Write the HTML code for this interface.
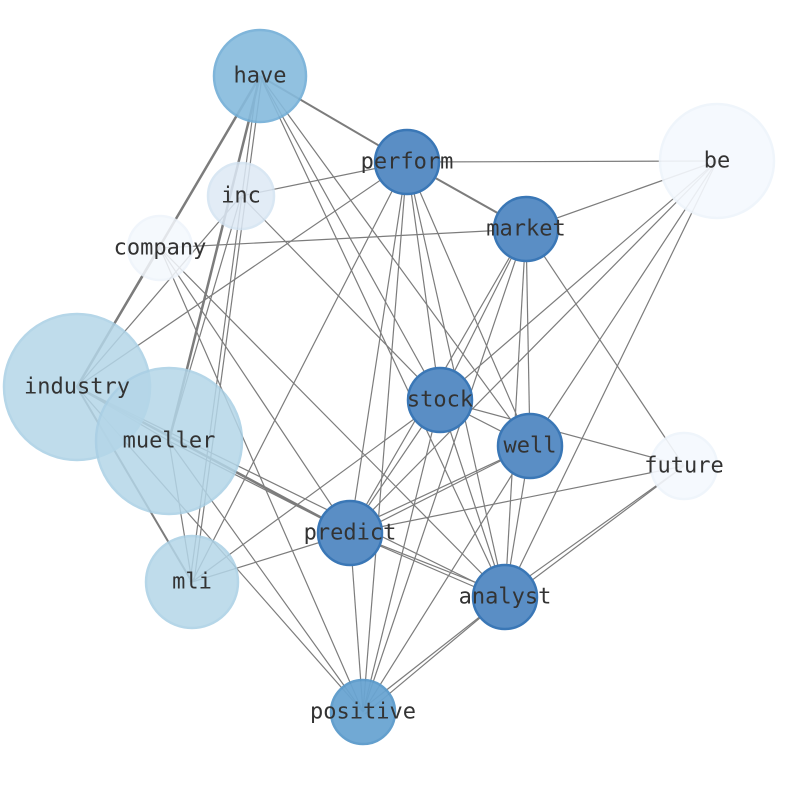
<!DOCTYPE html>
<html><head><style>body{margin:0;background:#fff}svg{display:block}</style></head><body>
<svg width="794" height="790" xmlns="http://www.w3.org/2000/svg">
<g stroke="#666" stroke-width="1.2" opacity="0.85" fill="none">
<line x1="260" y1="76" x2="407" y2="162" stroke-width="2"/>
<line x1="260" y1="76" x2="77" y2="387" stroke-width="2.5"/>
<line x1="260" y1="76" x2="169" y2="441" stroke-width="2.5"/>
<line x1="258" y1="76" x2="190" y2="582"/>
<line x1="262" y1="76" x2="194" y2="582"/>
<line x1="260" y1="76" x2="440" y2="400"/>
<line x1="260" y1="76" x2="530" y2="446"/>
<line x1="260" y1="76" x2="505" y2="597"/>
<line x1="407" y1="162" x2="717" y2="161"/>
<line x1="407" y1="162" x2="241" y2="196"/>
<line x1="407" y1="162" x2="526" y2="229" stroke-width="2"/>
<line x1="407" y1="162" x2="77" y2="387"/>
<line x1="407" y1="162" x2="192" y2="582"/>
<line x1="407" y1="162" x2="350" y2="533"/>
<line x1="407" y1="162" x2="440" y2="400"/>
<line x1="407" y1="162" x2="530" y2="446"/>
<line x1="407" y1="162" x2="505" y2="597"/>
<line x1="407" y1="162" x2="363" y2="712"/>
<line x1="526" y1="229" x2="160" y2="248"/>
<line x1="526" y1="229" x2="717" y2="161"/>
<line x1="526" y1="229" x2="440" y2="400"/>
<line x1="526" y1="229" x2="530" y2="446"/>
<line x1="526" y1="229" x2="350" y2="533"/>
<line x1="526" y1="229" x2="505" y2="597"/>
<line x1="526" y1="229" x2="363" y2="712"/>
<line x1="526" y1="229" x2="684" y2="466"/>
<line x1="717" y1="161" x2="440" y2="400"/>
<line x1="717" y1="161" x2="530" y2="446"/>
<line x1="717" y1="161" x2="505" y2="597"/>
<line x1="717" y1="161" x2="350" y2="533"/>
<line x1="241" y1="196" x2="440" y2="400"/>
<line x1="241" y1="196" x2="77" y2="387"/>
<line x1="241" y1="196" x2="169" y2="441"/>
<line x1="160" y1="248" x2="77" y2="387"/>
<line x1="160" y1="248" x2="350" y2="533"/>
<line x1="160" y1="248" x2="505" y2="597"/>
<line x1="160" y1="248" x2="363" y2="712"/>
<line x1="77" y1="387" x2="169" y2="441"/>
<line x1="77" y1="387" x2="350" y2="533" stroke-width="2.5"/>
<line x1="77" y1="387" x2="505" y2="597"/>
<line x1="77" y1="387" x2="192" y2="582" stroke-width="2"/>
<line x1="77" y1="387" x2="363" y2="712"/>
<line x1="169" y1="441" x2="350" y2="533"/>
<line x1="169" y1="441" x2="192" y2="582"/>
<line x1="169" y1="441" x2="363" y2="712"/>
<line x1="440" y1="400" x2="530" y2="446"/>
<line x1="440" y1="400" x2="684" y2="466"/>
<line x1="440" y1="400" x2="350" y2="533"/>
<line x1="440" y1="400" x2="505" y2="597"/>
<line x1="440" y1="400" x2="363" y2="712"/>
<line x1="440" y1="400" x2="192" y2="582"/>
<line x1="530" y1="446" x2="350" y2="530"/>
<line x1="530" y1="446" x2="350" y2="537"/>
<line x1="530" y1="446" x2="505" y2="597"/>
<line x1="530" y1="446" x2="363" y2="712"/>
<line x1="684" y1="466" x2="350" y2="533"/>
<line x1="684" y1="466" x2="503" y2="595"/>
<line x1="684" y1="466" x2="507" y2="599"/>
<line x1="350" y1="533" x2="505" y2="594"/>
<line x1="350" y1="533" x2="505" y2="600"/>
<line x1="350" y1="533" x2="192" y2="582"/>
<line x1="350" y1="533" x2="363" y2="712"/>
<line x1="505" y1="597" x2="361" y2="710"/>
<line x1="505" y1="597" x2="365" y2="714"/>
</g>
<g stroke-width="2.5">
<circle cx="717" cy="161" r="57" fill="#f5f9fe" stroke="#eef4fb" opacity="0.9"/>
<circle cx="684" cy="466" r="33" fill="#f5f9fe" stroke="#eef4fb" opacity="0.9"/>
<circle cx="160" cy="248" r="32" fill="#f4f8fd" stroke="#eef4fb" opacity="0.85"/>
<circle cx="241" cy="196" r="33" fill="#dde9f5" stroke="#d3e3f2" opacity="0.85"/>
<circle cx="77" cy="387" r="73" fill="#b4d6e8" stroke="#a9cfe4" opacity="0.85"/>
<circle cx="169" cy="441" r="73" fill="#b4d6e8" stroke="#a9cfe4" opacity="0.85"/>
<circle cx="192" cy="582" r="46" fill="#b4d6e8" stroke="#a9cfe4" opacity="0.85"/>
<circle cx="260" cy="76" r="46" fill="#86bbdd" stroke="#72aed6" opacity="0.9"/>
<circle cx="363" cy="712" r="32" fill="#6aa5d2" stroke="#5b9acb" opacity="0.95"/>
<g fill="#5a8ec5" stroke="#3a77b6">
<circle cx="407" cy="162" r="32"/>
<circle cx="526" cy="229" r="32"/>
<circle cx="440" cy="400" r="32"/>
<circle cx="530" cy="446" r="32"/>
<circle cx="350" cy="533" r="32"/>
<circle cx="505" cy="597" r="32"/>
</g>
</g>
<g font-family="'DejaVu Sans Mono', 'Liberation Mono', monospace" font-size="22" fill="#333" text-anchor="middle" dominant-baseline="central">
<text x="260" y="76">have</text>
<text x="407" y="162">perform</text>
<text x="717" y="161">be</text>
<text x="241" y="196">inc</text>
<text x="160" y="248">company</text>
<text x="526" y="229">market</text>
<text x="77" y="387">industry</text>
<text x="169" y="441">mueller</text>
<text x="440" y="400">stock</text>
<text x="530" y="446">well</text>
<text x="684" y="466">future</text>
<text x="350" y="533">predict</text>
<text x="192" y="582">mli</text>
<text x="505" y="597">analyst</text>
<text x="363" y="712">positive</text>
</g>
</svg>
</body></html>
